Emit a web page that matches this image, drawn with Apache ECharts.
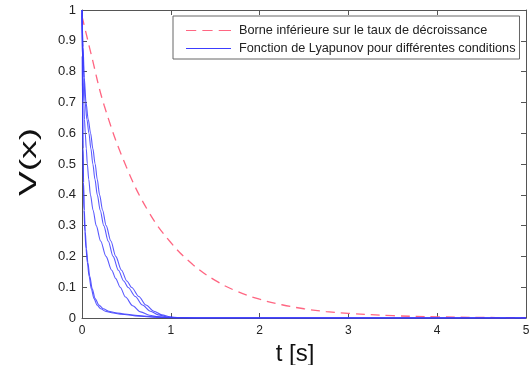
<!DOCTYPE html>
<html>
<head>
<meta charset="utf-8">
<script src="https://cdn.jsdelivr.net/npm/echarts@6/dist/echarts.min.js"></script>
<style>
  html, body { margin: 0; padding: 0; background: #fff; }
  #chart { width: 529px; height: 365px; }
</style>
</head>
<body>
<div id="chart"></div>
<script>
// Axis ticks
const xTicks = [0, 1, 2, 3, 4, 5];
const yTicks = [0, 0.1, 0.2, 0.3, 0.4, 0.5, 0.6, 0.7, 0.8, 0.9, 1];

// Lower bound on the decay rate
const boundT = [0, 0.05, 0.1, 0.25, 0.5, 0.75, 1, 1.25, 1.5, 1.75, 2, 2.25, 2.5, 2.75, 3, 3.5, 4, 4.5, 5];
const boundV = [0.98, 0.92, 0.86, 0.69, 0.49, 0.345, 0.245, 0.173, 0.122, 0.086, 0.061, 0.043, 0.030, 0.021, 0.015, 0.0075, 0.0037, 0.0018, 0.0009];

// Lyapunov function for several initial conditions
const fast1T = [0, 0.003, 0.006, 0.01, 0.015, 0.022, 0.032, 0.045, 0.06, 0.08, 0.105, 0.135, 0.17, 0.21, 0.27, 0.35, 0.45, 0.6, 0.8, 1.0, 1.3, 5];
const fast1V = [1.0, 0.85, 0.7, 0.55, 0.44, 0.35, 0.28, 0.225, 0.18, 0.135, 0.095, 0.063, 0.042, 0.03, 0.021, 0.016, 0.012, 0.007, 0.003, 0.001, 0, 0];
const fast2T = [0, 0.004, 0.007, 0.012, 0.018, 0.026, 0.037, 0.05, 0.066, 0.088, 0.115, 0.148, 0.19, 0.24, 0.3, 0.38, 0.48, 0.63, 0.83, 1.03, 1.35, 5];
const fast2V = [0.99, 0.85, 0.7, 0.55, 0.44, 0.35, 0.28, 0.225, 0.18, 0.135, 0.095, 0.063, 0.042, 0.03, 0.022, 0.017, 0.013, 0.008, 0.0035, 0.0012, 0, 0];
const slowAT = [0, 0.006, 0.013, 0.02, 0.028, 0.037, 0.048, 0.06, 0.076, 0.095, 0.125, 0.16, 0.21, 0.27, 0.335, 0.38, 0.43, 0.49, 0.57, 0.66, 0.76, 0.86, 0.97, 1.12, 5];
const slowAV = [1.0, 0.88, 0.78, 0.7, 0.645, 0.6, 0.55, 0.5, 0.45, 0.4, 0.35, 0.3, 0.25, 0.2, 0.155, 0.128, 0.1, 0.068, 0.04, 0.02, 0.009, 0.0035, 0.001, 0, 0];
const slowBT = [0, 0.01, 0.022, 0.035, 0.055, 0.078, 0.1, 0.122, 0.146, 0.172, 0.205, 0.245, 0.295, 0.35, 0.41, 0.47, 0.52, 0.6, 0.68, 0.77, 0.86, 0.95, 1.05, 1.2, 5];
const slowBV = [1.0, 0.88, 0.78, 0.7, 0.645, 0.6, 0.55, 0.5, 0.45, 0.4, 0.35, 0.3, 0.25, 0.2, 0.155, 0.12, 0.099, 0.07, 0.042, 0.022, 0.01, 0.004, 0.0012, 0, 0];
const slowCT = [0, 0.012, 0.026, 0.045, 0.07, 0.097, 0.122, 0.148, 0.172, 0.198, 0.232, 0.272, 0.325, 0.38, 0.445, 0.505, 0.56, 0.64, 0.72, 0.81, 0.9, 0.99, 1.09, 1.25, 5];
const slowCV = [1.0, 0.88, 0.78, 0.7, 0.645, 0.6, 0.55, 0.5, 0.45, 0.4, 0.35, 0.3, 0.25, 0.2, 0.155, 0.12, 0.099, 0.07, 0.042, 0.022, 0.01, 0.004, 0.0012, 0, 0];

const boundName = 'Borne inférieure sur le taux de décroissance';
const lyapName = 'Fonction de Lyapunov pour différentes conditions';

const zip = (ts, vs) => ts.map((t, i) => [t, vs[i]]);
const blueCurves = [[fast1T, fast1V], [fast2T, fast2V], [slowAT, slowAV], [slowBT, slowBV], [slowCT, slowCV]];

const FONT = '"Liberation Sans", Arial, Helvetica, sans-serif';
const axisColor = '#555';
const redColor = '#ff6682';
const blueColor = '#3c3cff';

// Legend swatches: a dashed stroke and a solid stroke drawn as filled paths
const dashIcon = 'path://M0,0h10v1h-10z M16,0h10v1h-10z M32,0h12v1h-12z';
const solidIcon = 'path://M0,0h44v1h-44z';

const chart = echarts.init(document.getElementById('chart'), null, { renderer: 'canvas' });

const baseX = {
  type: 'value', min: xTicks[0], max: xTicks[xTicks.length - 1], interval: 1,
  splitLine: { show: false },
  axisLine: { show: true, onZero: false, lineStyle: { color: axisColor, width: 1 } },
  axisTick: { show: true, inside: true, length: 5, lineStyle: { color: axisColor } }
};
const baseY = {
  type: 'value', min: yTicks[0], max: yTicks[yTicks.length - 1], interval: 0.1,
  splitLine: { show: false },
  axisLine: { show: true, onZero: false, lineStyle: { color: axisColor, width: 1 } },
  axisTick: { show: true, inside: true, length: 5, lineStyle: { color: axisColor } }
};

const series = [{
  name: boundName,
  type: 'line',
  data: zip(boundT, boundV),
  smooth: 0.4,
  symbol: 'none',
  lineStyle: { color: redColor, width: 1.3, type: [9, 6] },
  itemStyle: { color: redColor },
  z: 3
}];
blueCurves.forEach(([ts, vs]) => {
  series.push({
    name: lyapName,
    type: 'line',
    data: zip(ts, vs),
    smooth: 0.3,
    smoothMonotone: 'x',
    symbol: 'none',
    lineStyle: { color: blueColor, width: 1.1, opacity: 0.85 },
    itemStyle: { color: blueColor },
    z: 4
  });
});

chart.setOption({
  animation: false,
  backgroundColor: '#fff',
  grid: { left: 82, right: 3, top: 10, bottom: 47, containLabel: false, outerBoundsMode: 'none' },
  legend: {
    data: [
      { name: boundName, icon: dashIcon, itemStyle: { color: redColor } },
      { name: lyapName, icon: solidIcon, itemStyle: { color: blueColor } }
    ],
    orient: 'vertical',
    left: 173, top: 16,
    padding: [8, 4, 4, 13],
    itemWidth: 45, itemHeight: 1.3, itemGap: 5,
    borderColor: '#666', borderWidth: 1,
    backgroundColor: '#fff',
    textStyle: { fontFamily: FONT, fontSize: 12.7, color: '#222', padding: [0, 0, 0, 3] },
    selectedMode: false
  },
  xAxis: [
    Object.assign({}, baseX, {
      position: 'bottom',
      axisLabel: { show: true, margin: 7, fontFamily: FONT, fontSize: 12, color: '#222' },
      name: 't [s]', nameLocation: 'middle', nameGap: 8,
      nameTextStyle: { fontFamily: FONT, fontSize: 24, color: '#111', padding: [0, 18, 0, 0] }
    }),
    Object.assign({}, baseX, { position: 'top', axisLabel: { show: false } })
  ],
  yAxis: [
    Object.assign({}, baseY, {
      position: 'left',
      axisLabel: { show: true, margin: 6, fontFamily: FONT, fontSize: 13, color: '#222' }
    }),
    Object.assign({}, baseY, { position: 'right', axisLabel: { show: false } })
  ],
  graphic: [{
    type: 'text',
    x: 29, y: 162,
    rotation: Math.PI / 2,
    scaleX: 1.55,
    style: {
      text: 'V(x)',
      fontFamily: FONT, fontSize: 24,
      fill: '#111',
      align: 'center', verticalAlign: 'middle'
    }
  }],
  series: series
});
</script>
</body>
</html>
